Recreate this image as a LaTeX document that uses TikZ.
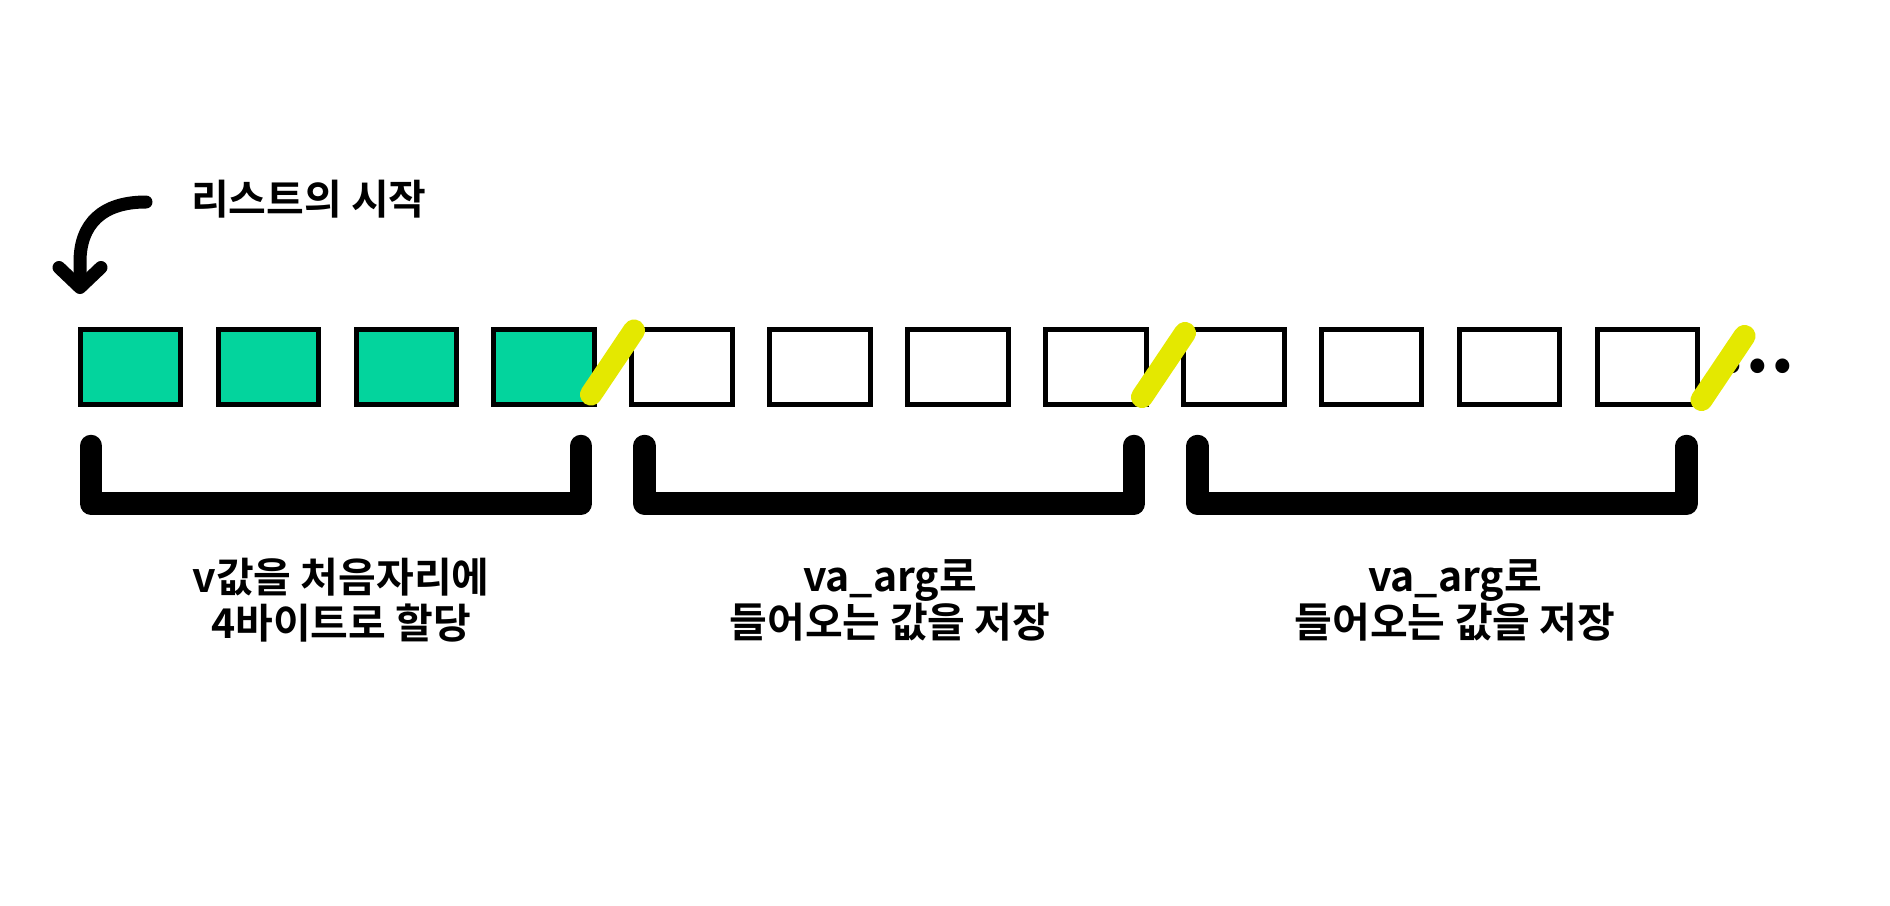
\documentclass[tikz,border=0pt]{standalone}
\usepackage{fontspec}
\setmainfont{Noto Sans CJK KR}[BoldFont={Noto Sans CJK KR Bold}]
\usetikzlibrary{arrows.meta}
\definecolor{cellgreen}{RGB}{3,212,157}
\definecolor{cutyellow}{RGB}{228,232,0}

\begin{document}
\begin{tikzpicture}[x=0.5pt, y=-0.5pt, font=\bfseries\fontsize{20.5pt}{23pt}\selectfont,
  cell/.style={draw=black, line width=2.5pt, minimum width=50.3pt, minimum height=37.5pt, inner sep=0pt},
  used/.style={cell, fill=cellgreen},
  cut/.style={draw=cutyellow, line width=11pt, line cap=round},
  brace/.style={draw=black, line width=11.25pt, line cap=round, line join=round},
  startarrow/.style={draw=black, line width=6.5pt, line cap=round, -{Straight Barb[length=10pt, width=21pt, round]}}]
\useasboundingbox (0,0) rectangle (1890,905);

% list cells
\node (c1) [used] at (130.5,366.7) {};
\node (c2) [used] at (268.4,366.7) {};
\node (c3) [used] at (406.3,366.7) {};
\node (c4) [used] at (544.2,366.7) {};
\node (c5) [cell] at (682.1,366.7) {};
\node (c6) [cell] at (820,366.7) {};
\node (c7) [cell] at (957.9,366.7) {};
\node (c8) [cell] at (1095.8,366.7) {};
\node (c9) [cell] at (1233.7,366.7) {};
\node (c10) [cell] at (1371.6,366.7) {};
\node (c11) [cell] at (1509.5,366.7) {};
\node (c12) [cell] at (1647.4,366.7) {};
\node (more) [anchor=base, font=\bfseries\fontsize{38pt}{40pt}\selectfont] at (1758,372) {...};

% cuts between blocks
\draw[cut] (591,394.5) -- (634,330.5);
\draw[cut] (1142,397) -- (1185,333);
\draw[cut] (1701.5,400) -- (1744.5,336);

% start of the list
\node (startlabel) [anchor=west] at (184,199) {리스트의 시작};
\coordinate (arrowfrom) at (146,202);
\coordinate (arrowto) at (80,294);
\draw[startarrow] (arrowfrom) .. controls (102,202) and (80,224) .. (80,262) -- (arrowto);

% brackets
\draw[brace] (91,446) -- (91,503.5) -- (581,503.5) -- (581,446);
\draw[brace] (644.7,446) -- (644.7,503.5) -- (1134,503.5) -- (1134,446);
\draw[brace] (1197.7,446) -- (1197.7,503.5) -- (1686.7,503.5) -- (1686.7,446);

\node (firstlabel) [align=center] at (341,600) {v값을 처음자리에\\4바이트로 할당};
\node (secondlabel) [align=center] at (890,600) {va\_arg로\\들어오는 값을 저장};
\node (thirdlabel) [align=center] at (1455,600) {va\_arg로\\들어오는 값을 저장};
\end{tikzpicture}
\end{document}
